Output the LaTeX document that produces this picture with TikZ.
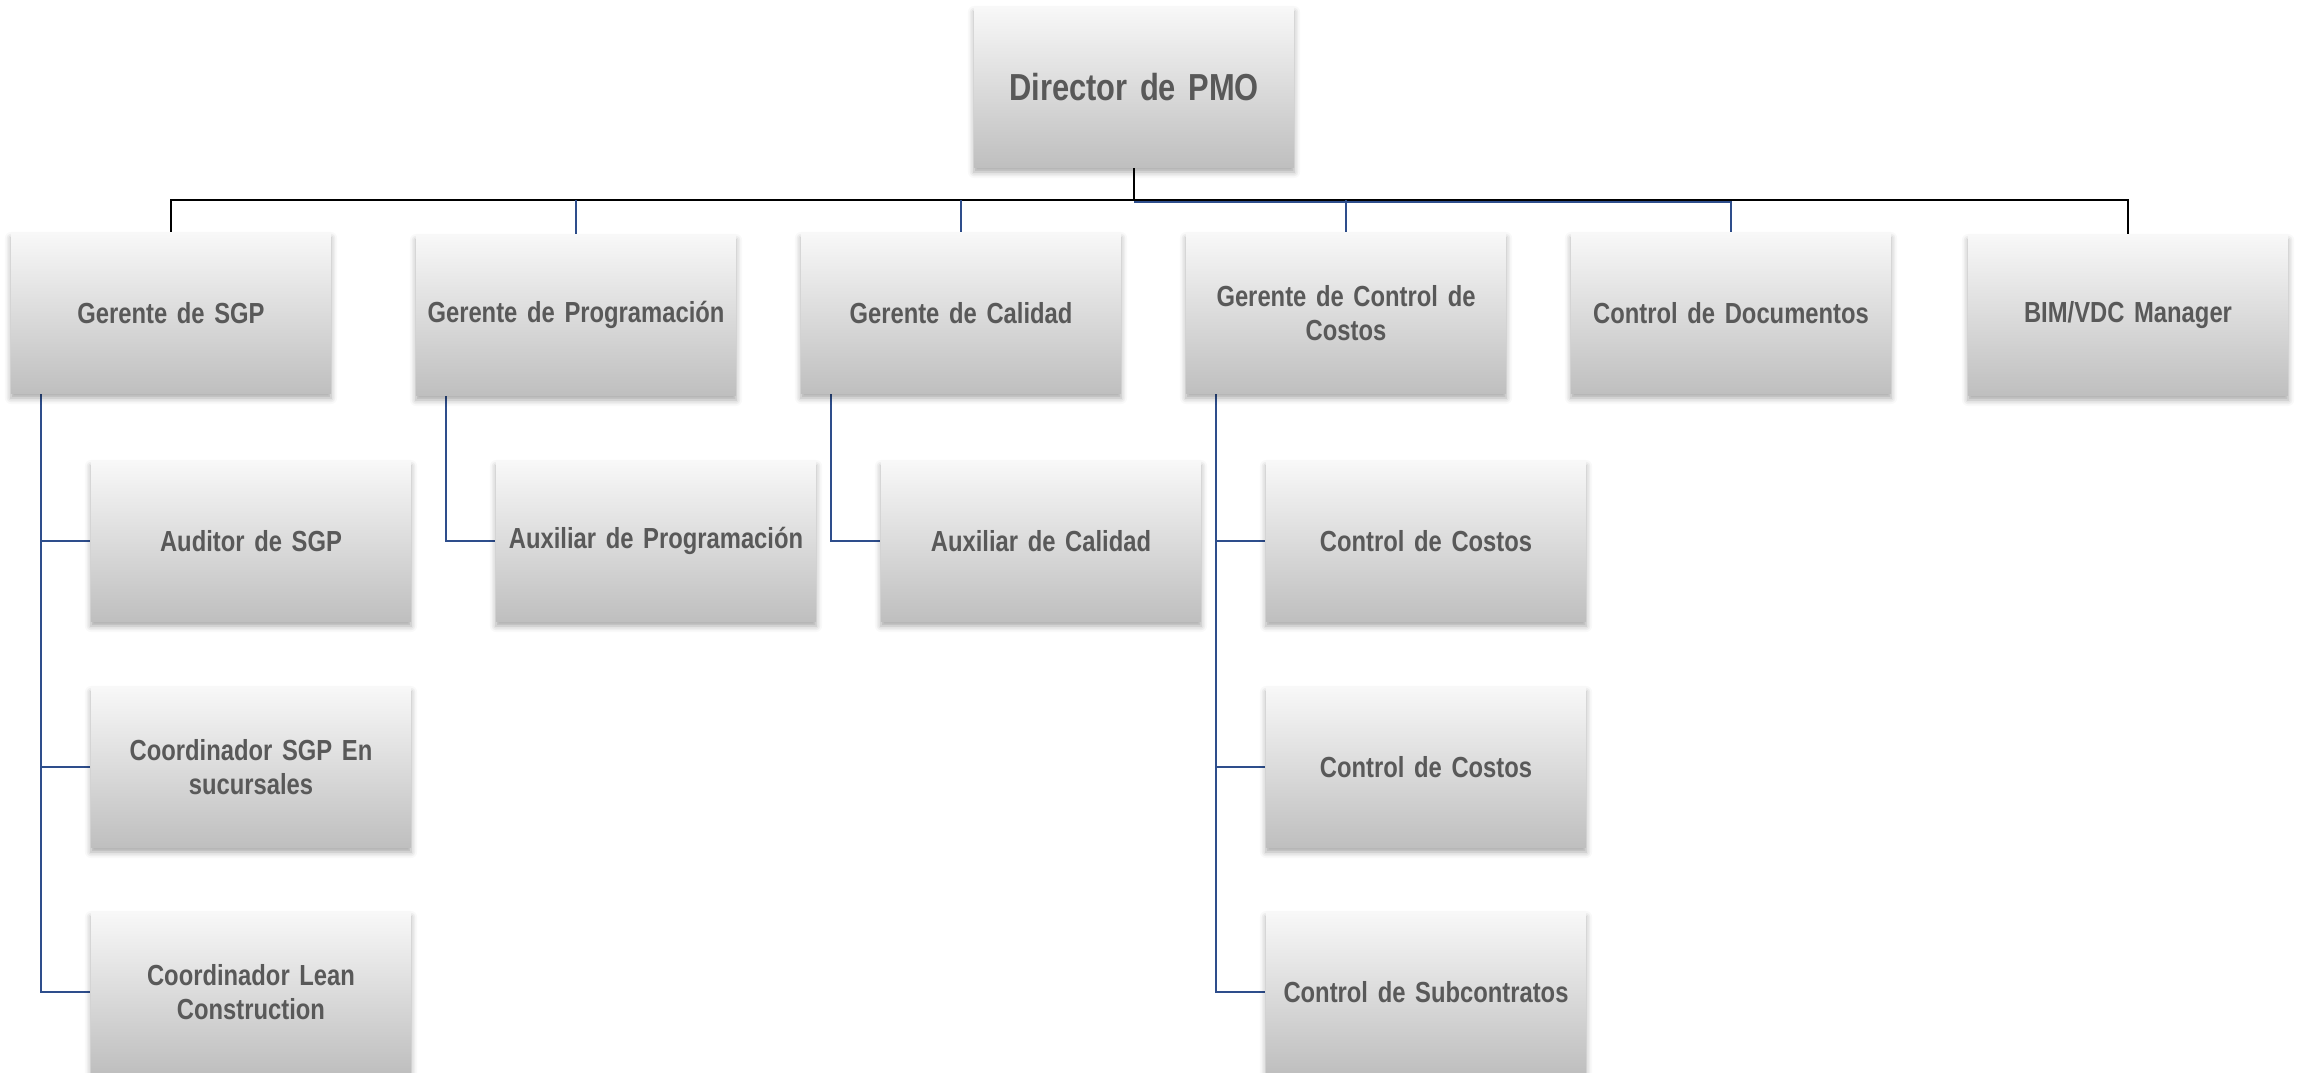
\documentclass[tikz,border=0pt]{standalone}
\usepackage{fontspec}
\setmainfont{Liberation Sans}[FakeStretch=0.82, WordSpace=0.7]
\usetikzlibrary{shadows.blur, backgrounds}
\definecolor{orgText}{HTML}{595959}
\definecolor{orgBlue}{HTML}{2E4E8C}
\definecolor{orgTop}{HTML}{F8F8F8}
\definecolor{orgBottom}{HTML}{BFBFBF}

\begin{document}
\begin{tikzpicture}[x=0.01cm, y=-0.01cm,
    orgbox/.style={rectangle, minimum width=3.2cm, minimum height=1.6cm, text width=3.04cm,
        inner xsep=0.08cm, inner ysep=2pt,
        top color=orgTop, bottom color=orgBottom, draw=none,
        blur shadow={shadow xshift=0pt, shadow yshift=-0.05cm, shadow blur radius=0.06cm, shadow opacity=35},
        text=orgText, font=\bfseries\fontsize{8.25}{9.7}\selectfont, align=center},
    blackline/.style={draw=black, line width=0.02cm},
    blueline/.style={draw=orgBlue, line width=0.02cm}]
    \useasboundingbox (0,0) rectangle (2297,1072);
    \node[orgbox, font=\bfseries\fontsize{10.7}{12.8}\selectfont] (dir) at (1134,87) {Director de PMO};
    \node[orgbox] (gsgp) at (171,313) {Gerente de SGP};
    \node[orgbox] (gprog) at (576,315) {Gerente de Programación};
    \node[orgbox] (gcal) at (961,313) {Gerente de Calidad};
    \node[orgbox] (gcos) at (1346,313) {Gerente de Control de\\Costos};
    \node[orgbox] (gdoc) at (1731,313) {Control de Documentos};
    \node[orgbox] (bim) at (2128,315) {BIM/VDC Manager};
    \node[orgbox] (asgp) at (251,541) {Auditor de SGP};
    \node[orgbox] (csgp) at (251,767) {Coordinador SGP En\\sucursales};
    \node[orgbox] (clean) at (251,992) {Coordinador Lean\\Construction};
    \node[orgbox] (aprog) at (656,541) {Auxiliar de Programación};
    \node[orgbox] (acal) at (1041,541) {Auxiliar de Calidad};
    \node[orgbox] (ccos1) at (1426,541) {Control de Costos};
    \node[orgbox] (ccos2) at (1426,767) {Control de Costos};
    \node[orgbox] (csub) at (1426,992) {Control de Subcontratos};
    \begin{scope}[on background layer]
        \coordinate (bus) at (1134,200);
        \draw[blackline] (dir.south) -- (bus);
        \draw[blackline] (gsgp.north) |- (bus) -| (bim.north);
        \draw[blueline] ([yshift=-0.02cm]bus) -| (gdoc.north);
        \foreach \n in {gprog, gcal, gcos}
            \draw[blueline] (\n.north) -- (\n.north |- bus);
        \foreach \p/\c in {gsgp/asgp, gsgp/csgp, gsgp/clean, gprog/aprog, gcal/acal, gcos/ccos1, gcos/ccos2, gcos/csub}
            \draw[blueline] ([xshift=0.31cm]\p.south west) |- (\c.west);
    \end{scope}
\end{tikzpicture}
\end{document}
